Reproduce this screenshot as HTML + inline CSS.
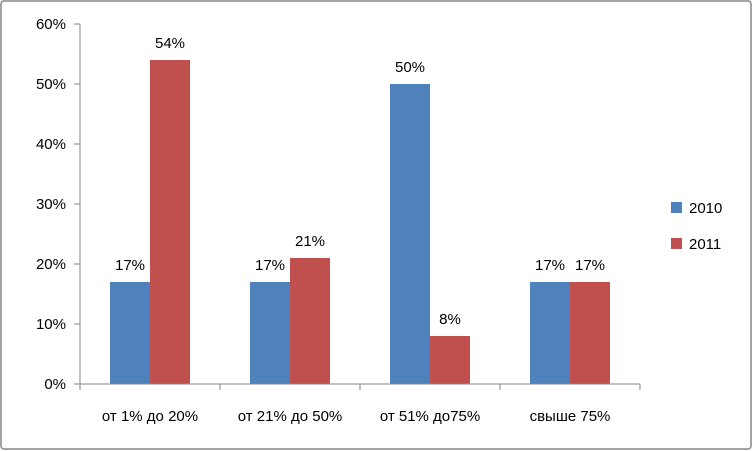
<!DOCTYPE html>
<html><head><meta charset="utf-8"><style>
body{margin:0;background:#fff}
svg{display:block;font-family:"Liberation Sans","DejaVu Sans",sans-serif}
</style></head><body>
<svg id="c" width="753" height="451">
<rect x="1" y="1" width="750" height="448" rx="3" fill="#fff" stroke="#868686" stroke-width="1.5"/>
</svg>
<script>
const categories=["от 1% до 20%","от 21% до 50%","от 51% до75%","свыше 75%"];
const s2010=[17,17,50,17];
const s2011=[54,21,8,17];
const yTicks=[0,10,20,30,40,50,60];
const seriesNames=["2010","2011"];
const colors=["#4f81bd","#c0504d"];
const svg=document.getElementById('c');const NS="http://www.w3.org/2000/svg";
const X0=80,X1=640,Y0=384,Y1=24,YMAX=60;
const y=v=>Y0-(v/YMAX)*(Y0-Y1);
const gw=(X1-X0)/categories.length;
function el(t,a,txt){const e=document.createElementNS(NS,t);for(const k in a)e.setAttribute(k,a[k]);if(txt!==undefined)e.textContent=txt;svg.appendChild(e);return e;}
yTicks.forEach(v=>{
 const t=el('line',{x1:74,x2:X0,y1:y(v),y2:y(v),stroke:'#868686'});
 
 
 const l=el('text',{x:66,y:y(v)+5,'text-anchor':'end','font-size':15,fill:'#000'},v+'%');
 
 
});
[s2010,s2011].forEach((s,si)=>{
 s.forEach((v,i)=>{
  const bx=X0+gw*i+30+si*40;
  const r=el('rect',{x:bx,y:y(v),width:40,height:Y0-y(v),fill:colors[si]});
  
  
  const t=el('text',{x:bx+20,y:y(v)-12,'text-anchor':'middle','font-size':15,fill:'#000'},v+'%');
  
  
 });
});
const ax=el('line',{x1:X0,x2:X0,y1:Y1,y2:Y0,stroke:'#868686'});


const bx=el('line',{x1:X0,x2:X1,y1:Y0,y2:Y0,stroke:'#868686'});


for(let i=0;i<=categories.length;i++){
 const t=el('line',{x1:X0+gw*i,x2:X0+gw*i,y1:Y0,y2:Y0+6,stroke:'#868686'});
 
 
}
categories.forEach((c,i)=>{
 const t=el('text',{x:X0+gw*i+gw/2,y:421,'text-anchor':'middle','font-size':15,fill:'#000'},c);
 
 
});
seriesNames.forEach((n,i)=>{
 const r=el('rect',{x:671,y:202+i*36,width:11,height:11,fill:colors[i]});
 
 
 const t=el('text',{x:689,y:213+i*36,'font-size':15,fill:'#000'},n);
 
 
});
</script>
</body></html>
